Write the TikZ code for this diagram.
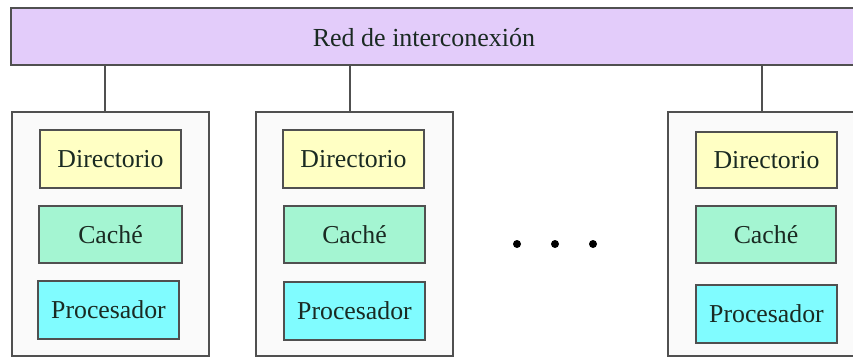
\documentclass[tikz,border=0pt]{standalone}
\usepackage{fontspec}
\setmainfont{Liberation Serif}
\definecolor{barc}{HTML}{E3CCFA}
\definecolor{dirc}{HTML}{FFFFC4}
\definecolor{cachec}{HTML}{A4F5D2}
\definecolor{procc}{HTML}{80FCFF}
\definecolor{outc}{HTML}{FAFAFA}
\definecolor{linec}{HTML}{505050}
\definecolor{txtc}{HTML}{1A2A22}
\tikzset{
  bx/.style={draw=linec, line width=1.3pt, inner sep=0pt, outer sep=0pt},
  unit/.style={bx, fill=outc},
  dirbox/.style={bx, fill=dirc},
  cachebox/.style={bx, fill=cachec},
  procbox/.style={bx, fill=procc},
  lbl/.style={font=\rmfamily\fontsize{25.8}{26}\selectfont, text=txtc},
  wire/.style={draw=linec, line width=1.3pt},
}
\begin{document}
\begin{tikzpicture}[x=1pt,y=-1pt]
\useasboundingbox (0,0) rectangle (853,358);
% bar
\node[bx, fill=barc, minimum width=855pt, minimum height=57pt, anchor=north west] (bar) at (11,8) {};
\node[lbl, font=\rmfamily\fontsize{26}{26}\selectfont] (bartxt) at (424,38) {Red de interconexión};
% units
\node[unit, minimum width=197pt, minimum height=244pt, anchor=north west] (u1) at (12,112) {};
\node[unit, minimum width=197pt, minimum height=244pt, anchor=north west] (u2) at (256,112) {};
\node[unit, minimum width=200pt, minimum height=244pt, anchor=north west] (u3) at (668,112) {};
% wires
\coordinate (w1) at (105,65);
\coordinate (w2) at (350,65);
\coordinate (w3) at (762,65);
\draw[wire] (w1) -- (w1 |- u1.north);
\draw[wire] (w2) -- (w2 |- u2.north);
\draw[wire] (w3) -- (w3 |- u3.north);
% unit 1
\node[dirbox, minimum width=141pt, minimum height=58pt, anchor=north west] (d1) at (40,130) {};
\node[lbl] at (d1.center) {Directorio};
\node[cachebox, minimum width=143pt, minimum height=57pt, anchor=north west] (c1) at (39,206) {};
\node[lbl] at (c1.center) {Caché};
\node[procbox, minimum width=141pt, minimum height=58pt, anchor=north west] (p1) at (38,281) {};
\node[lbl] at (p1.center) {Procesador};
% unit 2
\node[dirbox, minimum width=141pt, minimum height=58pt, anchor=north west] (d2) at (283,130) {};
\node[lbl] at (d2.center) {Directorio};
\node[cachebox, minimum width=141pt, minimum height=57pt, anchor=north west] (c2) at (284,206) {};
\node[lbl] at (c2.center) {Caché};
\node[procbox, minimum width=141pt, minimum height=58pt, anchor=north west] (p2) at (284,282) {};
\node[lbl] at (p2.center) {Procesador};
% unit 3
\node[dirbox, minimum width=141pt, minimum height=56pt, anchor=north west] (d3) at (696,132) {};
\node[lbl] at (d3.center) {Directorio};
\node[cachebox, minimum width=140pt, minimum height=57pt, anchor=north west] (c3) at (696,206) {};
\node[lbl] at (c3.center) {Caché};
\node[procbox, minimum width=141pt, minimum height=58pt, anchor=north west] (p3) at (696,285) {};
\node[lbl] at (p3.center) {Procesador};
% dots
\fill (517,244) circle (4);
\fill (555,244) circle (4);
\fill (593,244) circle (4);
\end{tikzpicture}
\end{document}
